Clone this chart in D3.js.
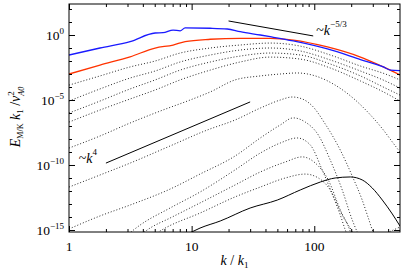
<!DOCTYPE html>
<html>
<head>
<meta charset="utf-8">
<script src="https://cdn.jsdelivr.net/npm/d3@7"></script>
<style>
body { margin: 0; background: #fff; }
svg text { font-family: "Liberation Serif", "DejaVu Serif", serif; fill: #000; }
</style>
</head>
<body>
<div id="chart"></div>
<script>
// spectra, pairs of [k/k1, E]
var blue = [[1, 2.9e-2], [1.79, 1.0e-1], [3.15, 3.1e-1], [5.04, 1.43], [5.85, 1.5], [7.06, 2.4],
    [8.06, 2.1], [8.85, 3.5], [14.2, 3.3], [19.5, 2.9], [24.9, 1.8], [36.3, 1.0], [43.7, 0.74],
    [67.4, 0.35], [128, 8.4e-2], [238, 1.3e-2], [366, 3.5e-3], [417, 2.0e-3], [500, 1.8e-3]];
var red = [[1, 1.0e-3], [1.79, 4.9e-3], [3.15, 2.1e-2], [5.04, 0.1], [7.06, 0.17], [8.85, 0.31],
    [14.2, 0.47], [24.9, 0.56], [43.7, 0.56], [67.4, 0.41], [128, 0.12], [238, 2.0e-2],
    [345, 4.5e-3], [417, 2.0e-3], [500, 8.3e-4]];

// intermediate times (dotted)
var t1 = [[1, 1.4e-4], [1.79, 7.1e-4], [3.15, 3.5e-3], [5.04, 1.0e-2], [8.06, 4.1e-2], [14.2, 0.1],
    [24.9, 0.17], [43.7, 0.24], [76.9, 0.14], [135, 2.9e-2], [238, 4.1e-3], [380, 1.0e-3], [500, 3.5e-4]];
var t2 = [[1, 8.3e-6], [1.79, 7.1e-5], [3.15, 4.9e-4], [5.04, 1.7e-3], [8.06, 8.4e-3], [14.2, 2.9e-2],
    [24.9, 7.0e-2], [43.7, 0.1], [76.9, 5.9e-2], [135, 1.2e-2], [238, 1.7e-3], [380, 2.9e-4], [500, 8.3e-5]];
var t3 = [[1, 1.0e-6], [1.79, 8.3e-6], [3.15, 7.1e-5], [5.04, 3.5e-4], [8.06, 2.0e-3], [14.2, 8.4e-3],
    [24.9, 2.4e-2], [43.7, 4.1e-2], [76.9, 2.9e-2], [135, 5.9e-3], [238, 7.1e-4], [380, 8.3e-5], [500, 2.4e-5]];
var t4 = [[1, 2.0e-7], [1.79, 1.7e-6], [3.15, 1.2e-5], [5.04, 5.9e-5], [8.06, 3.5e-4], [14.2, 2.0e-3],
    [24.9, 8.4e-3], [43.7, 2.0e-2], [76.9, 1.4e-2], [135, 2.9e-3], [238, 2.9e-4], [380, 3.5e-5], [500, 8.3e-6]];
var t5 = [[1, 2.0e-9], [1.79, 1.7e-8], [3.15, 1.7e-7], [5.53, 1.4e-6], [9.72, 1.0e-5], [14.2, 4.2e-5],
    [22.6, 3.5e-4], [36.3, 7.1e-4], [52.8, 1.0e-3], [72.6, 1.2e-3], [102, 7.1e-4], [148, 1.4e-4],
    [216, 1.0e-5], [287, 7.1e-7], [366, 4.9e-8], [433, 5.9e-9], [500, 1.0e-9]];
var t6 = [[1, 2.0e-12], [1.79, 1.7e-11], [3.15, 1.4e-10], [6.67, 2.9e-9], [13.4, 4.9e-8], [22.6, 2.9e-7],
    [36.3, 2.4e-6], [52.8, 1.0e-5], [66.1, 1.7e-5], [79.8, 1.2e-5], [96.3, 3.5e-6], [123, 1.4e-7],
    [163, 1.4e-9], [204, 1.4e-11], [246, 2.0e-13], [276, 8.3e-15], [303, 7.1e-16], [333, 3.5e-16],
    [387, 5.9e-16], [500, 1.7e-15]];
var t7 = [[1, 1.2e-15], [1.79, 1.2e-14], [3.15, 8.3e-14], [6.67, 1.4e-12], [11.7, 2.0e-11], [22.6, 4.9e-10],
    [36.3, 1.2e-8], [52.8, 1.2e-7], [67.4, 4.2e-7], [84.5, 2.0e-7], [108, 2.0e-8], [135, 2.4e-10],
    [169, 1.2e-12], [204, 5.9e-15], [224, 7.1e-16], [238, 2.4e-16]];
var t8 = [[2.92, 3.5e-16], [3.80, 2.4e-15], [6.67, 4.9e-14], [11.7, 8.3e-13], [22.6, 4.2e-11], [36.3, 8.3e-10],
    [52.8, 4.9e-9], [72.6, 1.2e-8], [92.7, 3.5e-9], [116, 4.2e-11], [143, 3.5e-13], [163, 1.4e-14],
    [179, 1.0e-15], [190, 2.4e-16]];
var t9 = [[3.73, 3.5e-16], [4.58, 1.4e-15], [6.67, 8.3e-15], [11.7, 1.2e-13], [22.6, 2.9e-12], [36.3, 2.9e-11],
    [58.0, 1.7e-10], [79.8, 4.2e-10], [102, 1.4e-10], [130, 7.1e-12], [163, 3.5e-14], [197, 7.1e-16], [204, 2.4e-16]];
var t10 = [[4.76, 3.5e-16], [6.08, 1.4e-15], [11.7, 2.0e-14], [22.6, 3.5e-13], [36.3, 2.0e-12], [58.0, 1.0e-11],
    [84.5, 2.0e-11], [108, 1.0e-11], [135, 1.2e-12], [169, 1.4e-14], [204, 7.1e-16], [216, 2.4e-16]];
var dotted = [t1, t2, t3, t4, t5, t6, t7, t8, t9, t10];

// initial spectrum (solid black)
var initial = [[8.68, 3.5e-16], [11.7, 1.4e-15], [17.1, 4.9e-15], [30.0, 4.9e-14], [49.9, 2.0e-13],
    [76.9, 1.2e-12], [112, 4.9e-12], [148, 1.0e-11], [197, 1.2e-11], [246, 7.1e-12], [297, 1.7e-12],
    [359, 2.0e-13], [433, 1.7e-14], [500, 2.0e-15]];

// power-law guides
var slopeKol = [[20, 12], [98, 0.85]];
var slopeK4 = [[2.0, 1.4e-10], [30, 7.1e-6]];

var xMajor = [1, 10, 100];
var xMinor = [2, 3, 4, 5, 6, 7, 8, 9, 20, 30, 40, 50, 60, 70, 80, 90, 200, 300, 400];
var xLabels = ["1", "10", "100"];
var yMajor = [1e0, 1e-5, 1e-10, 1e-15];
var yMinor = [1e2, 1e1, 1e-1, 1e-2, 1e-3, 1e-4, 1e-6, 1e-7, 1e-8, 1e-9, 1e-11, 1e-12, 1e-13, 1e-14];
var yExponents = ["0", "\u22125", "\u221210", "\u221215"];

var margin = {top: 4, right: 7, bottom: 39, left: 69};
var width = 407 - margin.left - margin.right,
    height = 271 - margin.top - margin.bottom;

var svg = d3.select("#chart").append("svg")
    .attr("width", 407)
    .attr("height", 271)
    .attr("font-family", "Liberation Serif, DejaVu Serif, serif");

var g = svg.append("g")
    .attr("transform", "translate(" + margin.left + "," + margin.top + ")");

var x = d3.scaleLog().domain([1, 500]).range([0, width]);
var y = d3.scaleLog().domain([7e-16, 243]).range([height, 0]);

g.append("clipPath").attr("id", "clip")
    .append("rect").attr("width", width).attr("height", height);

var line = d3.line()
    .x(function(d) { return x(d[0]); })
    .y(function(d) { return y(d[1]); })
    .curve(d3.curveMonotoneX);

var plot = g.append("g").attr("clip-path", "url(#clip)");

plot.selectAll(".dot")
    .data(dotted)
    .enter().append("path")
    .attr("class", "dot")
    .attr("d", line)
    .attr("fill", "none")
    .attr("stroke", "#111")
    .attr("stroke-width", 0.9)
    .attr("stroke-dasharray", "1,2");

plot.append("path").datum(initial)
    .attr("d", line).attr("fill", "none").attr("stroke", "#000").attr("stroke-width", 1);

plot.append("path").datum(red)
    .attr("d", line).attr("fill", "none").attr("stroke", "#ff3300").attr("stroke-width", 1.3);
plot.append("path").datum(blue)
    .attr("d", line).attr("fill", "none").attr("stroke", "#1a1aff").attr("stroke-width", 1.3);

var straight = d3.line()
    .x(function(d) { return x(d[0]); })
    .y(function(d) { return y(d[1]); });

[slopeKol, slopeK4].forEach(function(s) {
    plot.append("path").datum(s)
        .attr("d", straight).attr("fill", "none").attr("stroke", "#000").attr("stroke-width", 1);
});

// axes, ticks pointing inwards on all four sides
function noLabels(a) { return a.tickFormat(""); }
g.append("g").attr("transform", "translate(0," + height + ")")
    .call(noLabels(d3.axisBottom(x).tickValues(xMajor).tickSize(-6).tickSizeOuter(0)));
g.append("g").attr("transform", "translate(0," + height + ")")
    .call(noLabels(d3.axisBottom(x).tickValues(xMinor).tickSize(-3).tickSizeOuter(0)));
g.append("g")
    .call(noLabels(d3.axisTop(x).tickValues(xMajor).tickSize(-6).tickSizeOuter(0)));
g.append("g")
    .call(noLabels(d3.axisTop(x).tickValues(xMinor).tickSize(-3).tickSizeOuter(0)));
g.append("g")
    .call(noLabels(d3.axisLeft(y).tickValues(yMajor).tickSize(-6).tickSizeOuter(0)));
g.append("g")
    .call(noLabels(d3.axisLeft(y).tickValues(yMinor).tickSize(-3).tickSizeOuter(0)));
g.append("g").attr("transform", "translate(" + width + ",0)")
    .call(noLabels(d3.axisRight(y).tickValues(yMajor).tickSize(-6).tickSizeOuter(0)));
g.append("g").attr("transform", "translate(" + width + ",0)")
    .call(noLabels(d3.axisRight(y).tickValues(yMinor).tickSize(-3).tickSizeOuter(0)));
g.selectAll(".domain").remove();
g.selectAll(".tick line").attr("stroke", "#000");

g.append("rect")
    .attr("width", width).attr("height", height)
    .attr("fill", "none").attr("stroke", "#000").attr("stroke-width", 1);

// tick labels
g.selectAll(".xlab")
    .data(xMajor)
    .enter().append("text")
    .attr("class", "xlab")
    .attr("x", function(d) { return x(d); })
    .attr("y", height + 19)
    .attr("text-anchor", "middle")
    .style("font-size", "13.5px")
    .text(function(d, i) { return xLabels[i]; });

var ylab = g.selectAll(".ylab")
    .data(yMajor)
    .enter().append("text")
    .attr("class", "ylab")
    .attr("x", -5)
    .attr("y", function(d) { return y(d) + 5; })
    .attr("text-anchor", "end")
    .style("font-size", "13.5px");
ylab.append("tspan").text("10");
ylab.append("tspan").attr("dy", -6).style("font-size", "9px")
    .text(function(d, i) { return yExponents[i]; });

// axis titles
var xt = g.append("text")
    .attr("x", width / 2)
    .attr("y", height + 33)
    .attr("text-anchor", "middle")
    .style("font-size", "14px");
xt.append("tspan").style("font-style", "italic").text("k");
xt.append("tspan").text(" / ");
xt.append("tspan").style("font-style", "italic").text("k");
xt.append("tspan").attr("dy", 3).style("font-size", "9px").text("1");

var yt = svg.append("text")
    .attr("transform", "translate(20,117) rotate(-90)")
    .attr("text-anchor", "middle")
    .style("font-size", "14px");
yt.append("tspan").style("font-style", "italic").text("E");
yt.append("tspan").attr("dy", 3).style("font-size", "8px").text("M/K");
yt.append("tspan").attr("dy", -3).text(" ");
yt.append("tspan").style("font-style", "italic").text("k");
yt.append("tspan").attr("dy", 3).style("font-size", "9px").text("1");
yt.append("tspan").attr("dy", -3).text(" /");
yt.append("tspan").style("font-style", "italic").text("v");
yt.append("tspan").attr("dy", -6).style("font-size", "9px").text("2");
yt.append("tspan").attr("dx", -4.5).attr("dy", 10).style("font-size", "8px").style("font-style", "italic").text("A0");

// slope annotations
var a1 = g.append("text")
    .attr("x", x(100) + 2)
    .attr("y", y(0.85) - 1)
    .style("font-size", "14px");
a1.append("tspan").text("~");
a1.append("tspan").style("font-style", "italic").text("k");
a1.append("tspan").attr("dy", -8).style("font-size", "9px").text("\u22125/3");

var a2 = g.append("text")
    .attr("x", x(1.2))
    .attr("y", y(1.4e-10))
    .style("font-size", "14px");
a2.append("tspan").text("~");
a2.append("tspan").style("font-style", "italic").text("k");
a2.append("tspan").attr("dy", -8).style("font-size", "9px").text("4");
</script>
</body>
</html>
